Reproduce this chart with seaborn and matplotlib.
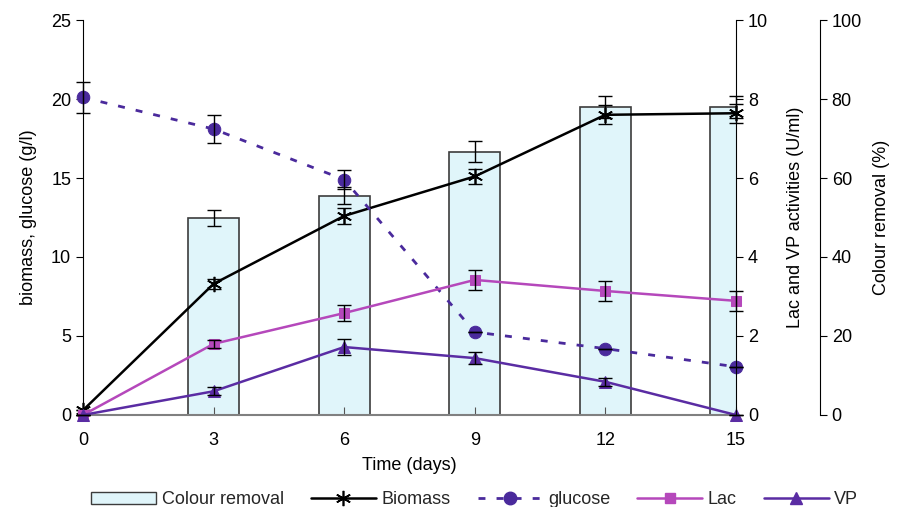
import matplotlib
matplotlib.use("Agg")
import matplotlib.pyplot as plt
import seaborn as sns
import numpy as np
from matplotlib.patches import Patch
from matplotlib.lines import Line2D

# Data
days = [0, 3, 6, 9, 12, 15]
biomass = [0.3, 8.3, 12.6, 15.1, 19.0, 19.1]
biomass_err = [0.0, 0.3, 0.5, 0.5, 0.6, 0.6]
glucose = [20.1, 18.1, 14.9, 5.25, 4.2, 3.05]
glucose_err = [1.0, 0.9, 0.6, 0.0, 0.0, 0.0]
lac = [0.0, 1.8, 2.58, 3.42, 3.14, 2.89]
lac_err = [0.0, 0.1, 0.2, 0.25, 0.25, 0.25]
vp = [0.0, 0.6, 1.72, 1.44, 0.84, 0.0]
vp_err = [0.0, 0.1, 0.2, 0.15, 0.1, 0.0]
cr_days = [3, 6, 9, 12, 15]
colour_removal = [49.9, 55.5, 66.7, 78.0, 78.0]
cr_err = [2.0, 2.2, 2.7, 2.8, 2.8]

sns.set_style("ticks")
plt.rcParams['font.family'] = ['Liberation Sans', 'DejaVu Sans']
plt.rcParams['font.size'] = 11

c_bio = "black"
c_glu = "#4a2a9c"
c_lac = "#b548bb"
c_vp = "#5a2ca3"

fig = plt.figure(figsize=(9.04, 5.07), dpi=100)
ax = fig.add_axes([0.0918, 0.1815, 0.7223, 0.779])
ax2 = ax.twinx()
ax3 = ax.twinx()
ax3.set_zorder(0)
ax.set_zorder(1)
ax2.set_zorder(2)
ax.patch.set_visible(False)
ax2.patch.set_visible(False)

# colour removal bars (third axis)
ax3.bar(cr_days, colour_removal, width=1.17, color="#e0f5fa",
        edgecolor="#3c3c3c", linewidth=1.2, zorder=1)
ax3.errorbar(cr_days, colour_removal, yerr=cr_err, fmt="none",
             ecolor="black", elinewidth=1, capsize=5, zorder=2, clip_on=False)
ax3.set_ylim(0, 100)
ax3.set_yticks(range(0, 101, 20))

# biomass / glucose (left axis)
sns.lineplot(x=days, y=biomass, ax=ax, color=c_bio, lw=1.8, clip_on=False,
             marker=(6, 2, 0), markersize=11, mec=c_bio, mew=1.2)
ax.errorbar(days, biomass, yerr=biomass_err, fmt="none", ecolor="black",
            elinewidth=1, capsize=5, clip_on=False)
sns.lineplot(x=days, y=glucose, ax=ax, color=c_glu, lw=2, clip_on=False,
             linestyle=(0, (2.5, 4)), marker="o", markersize=9, mec=c_glu)
ax.errorbar(days, glucose, yerr=glucose_err, fmt="none", ecolor="black",
            elinewidth=1, capsize=5, clip_on=False)
ax.set_ylim(0, 25)
ax.set_xlim(0, 15)
ax.set_xticks(days)

# Lac / VP (right axis)
sns.lineplot(x=days, y=lac, ax=ax2, color=c_lac, lw=1.8, clip_on=False,
             marker="s", markersize=7, mec=c_lac)
ax2.errorbar(days, lac, yerr=lac_err, fmt="none", ecolor="black",
             elinewidth=1, capsize=5, clip_on=False)
sns.lineplot(x=days, y=vp, ax=ax2, color=c_vp, lw=1.8, clip_on=False,
             marker="^", markersize=8, mec=c_vp)
ax2.errorbar(days, vp, yerr=vp_err, fmt="none", ecolor="black",
             elinewidth=1, capsize=5, clip_on=False)
ax2.set_ylim(0, 10)
ax2.set_yticks(range(0, 11, 2))

# spines
for s in ["top", "right"]:
    ax.spines[s].set_visible(False)
ax.spines["left"].set_color("black")
ax.spines["bottom"].set_color("#808080")
ax.spines["bottom"].set_linewidth(1.5)
for s in ["top", "left", "bottom"]:
    ax2.spines[s].set_visible(False)
    ax3.spines[s].set_visible(False)
ax2.spines["right"].set_color("black")
ax3.spines["right"].set_position(("axes", 1.1286))
ax3.spines["right"].set_color("black")

ax.tick_params(axis="y", direction="out", length=5, labelsize=13, colors="black")
ax.tick_params(axis="x", direction="in", length=6, labelsize=13, color="#555555",
               labelcolor="black", pad=12)
ax2.tick_params(axis="y", direction="out", length=5, labelsize=13, colors="black")
ax3.tick_params(axis="y", direction="out", length=5, labelsize=13, colors="black")

ax.set_xlabel("Time (days)", fontsize=13, labelpad=6, color="black")
ax.set_ylabel("biomass, glucose (g/l)", fontsize=13, labelpad=10, color="black")
ax2.set_ylabel("Lac and VP activities (U/ml)", fontsize=13, labelpad=14, color="black")
ax3.set_ylabel("Colour removal (%)", fontsize=13, labelpad=8, color="black")

handles = [
    Patch(facecolor="#e0f5fa", edgecolor="#3c3c3c"),
    Line2D([], [], color=c_bio, lw=1.8, marker=(6, 2, 0), markersize=11, mew=1.2),
    Line2D([], [], color=c_glu, lw=2, linestyle=(0, (2.5, 4)), marker="o", markersize=9),
    Line2D([], [], color=c_lac, lw=1.8, marker="s", markersize=7),
    Line2D([], [], color=c_vp, lw=1.8, marker="^", markersize=8),
]
labels = ["Colour removal", "Biomass", "glucose", "Lac", "VP"]
fig.legend(handles, labels, loc="lower left", bbox_to_anchor=(0.083, -0.035),
           ncol=5, frameon=False, fontsize=13, handlelength=3.6,
           columnspacing=1.5, handletextpad=0.3)

fig.savefig("out.png", dpi=100)
